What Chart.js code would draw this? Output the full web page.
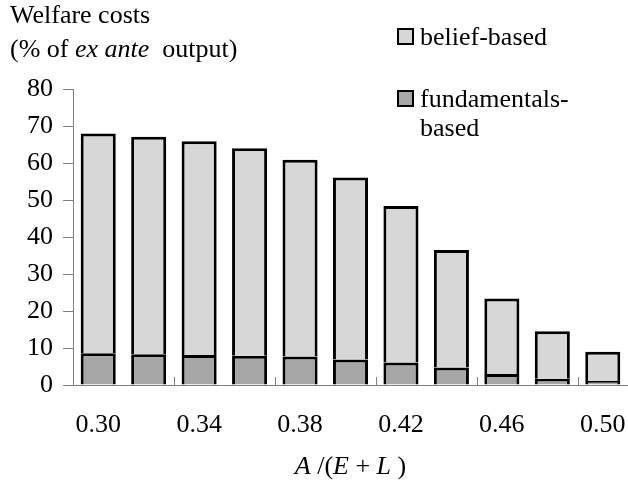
<!DOCTYPE html>
<html>
<head>
<meta charset="utf-8">
<script src="https://cdn.jsdelivr.net/npm/chart.js@4.4.0/dist/chart.umd.min.js"></script>
<style>
html, body { margin: 0; padding: 0; background: #fff; }
</style>
</head>
<body>
<canvas id="chart" width="628" height="488"></canvas>
<script>
// ratio A/(E+L) on the x axis
var ratios = ['0.30', '0.32', '0.34', '0.36', '0.38', '0.40', '0.42', '0.44', '0.46', '0.48', '0.50'];
// welfare costs, % of ex ante output
var fundamentalsBased = [8.6, 8.3, 8.1, 7.9, 7.7, 6.9, 6.1, 4.7, 3.0, 1.7, 1.1];
var beliefBased = [59.4, 58.8, 57.8, 56.1, 53.2, 49.2, 42.3, 31.8, 20.4, 12.8, 7.9];
var shownRatios = ['0.30', '0.34', '0.38', '0.42', '0.46', '0.50'];
var yMin = 0, yMax = 80, yStep = 10;

var serif = '"Liberation Serif", "Times New Roman", serif';

function drawRuns(ctx, runs, x, y, align) {
  var total = 0;
  runs.forEach(function (r) {
    ctx.font = (r[1] ? 'italic ' : '') + '26px ' + serif;
    total += ctx.measureText(r[0]).width;
  });
  var cx = align == 'center' ? x - total / 2 : x;
  runs.forEach(function (r) {
    ctx.font = (r[1] ? 'italic ' : '') + '26px ' + serif;
    ctx.fillText(r[0], cx, y);
    cx += ctx.measureText(r[0]).width;
  });
}

var extras = {
  id: 'extras',
  afterDraw: function (chart) {
    var ctx = chart.ctx;
    var xs = chart.scales.x;
    var area = chart.chartArea;
    ctx.save();

    // small inward tick marks on the category axis, every two categories
    var half = (xs.getPixelForValue(1) - xs.getPixelForValue(0)) / 2;
    ctx.strokeStyle = '#808080';
    ctx.lineWidth = 1;
    for (var i = 0; i < ratios.length; i += 2) {
      var px = Math.round(xs.getPixelForValue(i) - half) + 0.5;
      ctx.beginPath();
      ctx.moveTo(px, area.bottom);
      ctx.lineTo(px, area.bottom - 8);
      ctx.stroke();
    }

    ctx.fillStyle = '#000';
    ctx.textBaseline = 'alphabetic';
    ctx.textAlign = 'left';

    // y axis title
    drawRuns(ctx, [['Welfare costs', false]], 10, 23);
    drawRuns(ctx, [['(% of ', false], ['ex ante', true], ['  output)', false]], 10, 57);

    // x axis title
    drawRuns(ctx, [['A', true], [' /(', false], ['E', true], [' + ', false], ['L', true], [' )', false]],
      (area.left + area.right) / 2, 474, 'center');

    // legend
    var items = [
      { ds: chart.data.datasets[1], lines: ['belief-based'], top: 28 },
      { ds: chart.data.datasets[0], lines: ['fundamentals-', 'based'], top: 90 }
    ];
    items.forEach(function (it) {
      ctx.fillStyle = it.ds.backgroundColor;
      ctx.fillRect(397, it.top, 17, 17);
      ctx.strokeStyle = '#000';
      ctx.lineWidth = 2;
      ctx.strokeRect(398, it.top + 1, 15, 15);
      ctx.fillStyle = '#000';
      it.lines.forEach(function (t, k) {
        drawRuns(ctx, [[t, false]], 420, it.top + 17 + k * 29);
      });
    });
    ctx.restore();
  }
};

new Chart(document.getElementById('chart'), {
  type: 'bar',
  data: {
    labels: ratios,
    datasets: [
      {
        label: 'fundamentals-based',
        data: fundamentalsBased,
        backgroundColor: '#a6a6a6',
        borderColor: '#000',
        borderWidth: 3
      },
      {
        label: 'belief-based',
        data: beliefBased,
        backgroundColor: '#d7d7d7',
        borderColor: '#000',
        borderWidth: 3
      }
    ]
  },
  options: {
    responsive: false,
    animation: false,
    layout: { padding: { top: 89, right: 0, left: 0, bottom: 0 } },
    datasets: { bar: { categoryPercentage: 1, barPercentage: 0.695 } },
    plugins: {
      legend: { display: false },
      tooltip: { enabled: false }
    },
    scales: {
      x: {
        stacked: true,
        offset: true,
        grid: { display: false },
        border: { display: true, color: '#808080', width: 1 },
        ticks: {
          autoSkip: false,
          maxRotation: 0,
          padding: 17,
          color: '#000',
          font: { family: serif, size: 26 },
          callback: function (v, i) {
            return shownRatios.indexOf(ratios[i]) >= 0 ? ratios[i] : '';
          }
        },
        afterFit: function (s) {
          s.height = 103;
          s.paddingLeft = 0;
          s.paddingRight = 0;
        }
      },
      y: {
        stacked: true,
        min: yMin,
        max: yMax,
        grid: { drawOnChartArea: false, drawTicks: true, tickLength: 10, color: '#808080' },
        border: { display: true, color: '#808080', width: 1 },
        ticks: {
          stepSize: yStep,
          padding: 10,
          color: '#000',
          font: { family: serif, size: 26 }
        },
        afterFit: function (s) {
          s.width = 73;
          s.paddingTop = 0;
          s.paddingBottom = 0;
        }
      }
    }
  },
  plugins: [extras]
});
</script>
</body>
</html>
